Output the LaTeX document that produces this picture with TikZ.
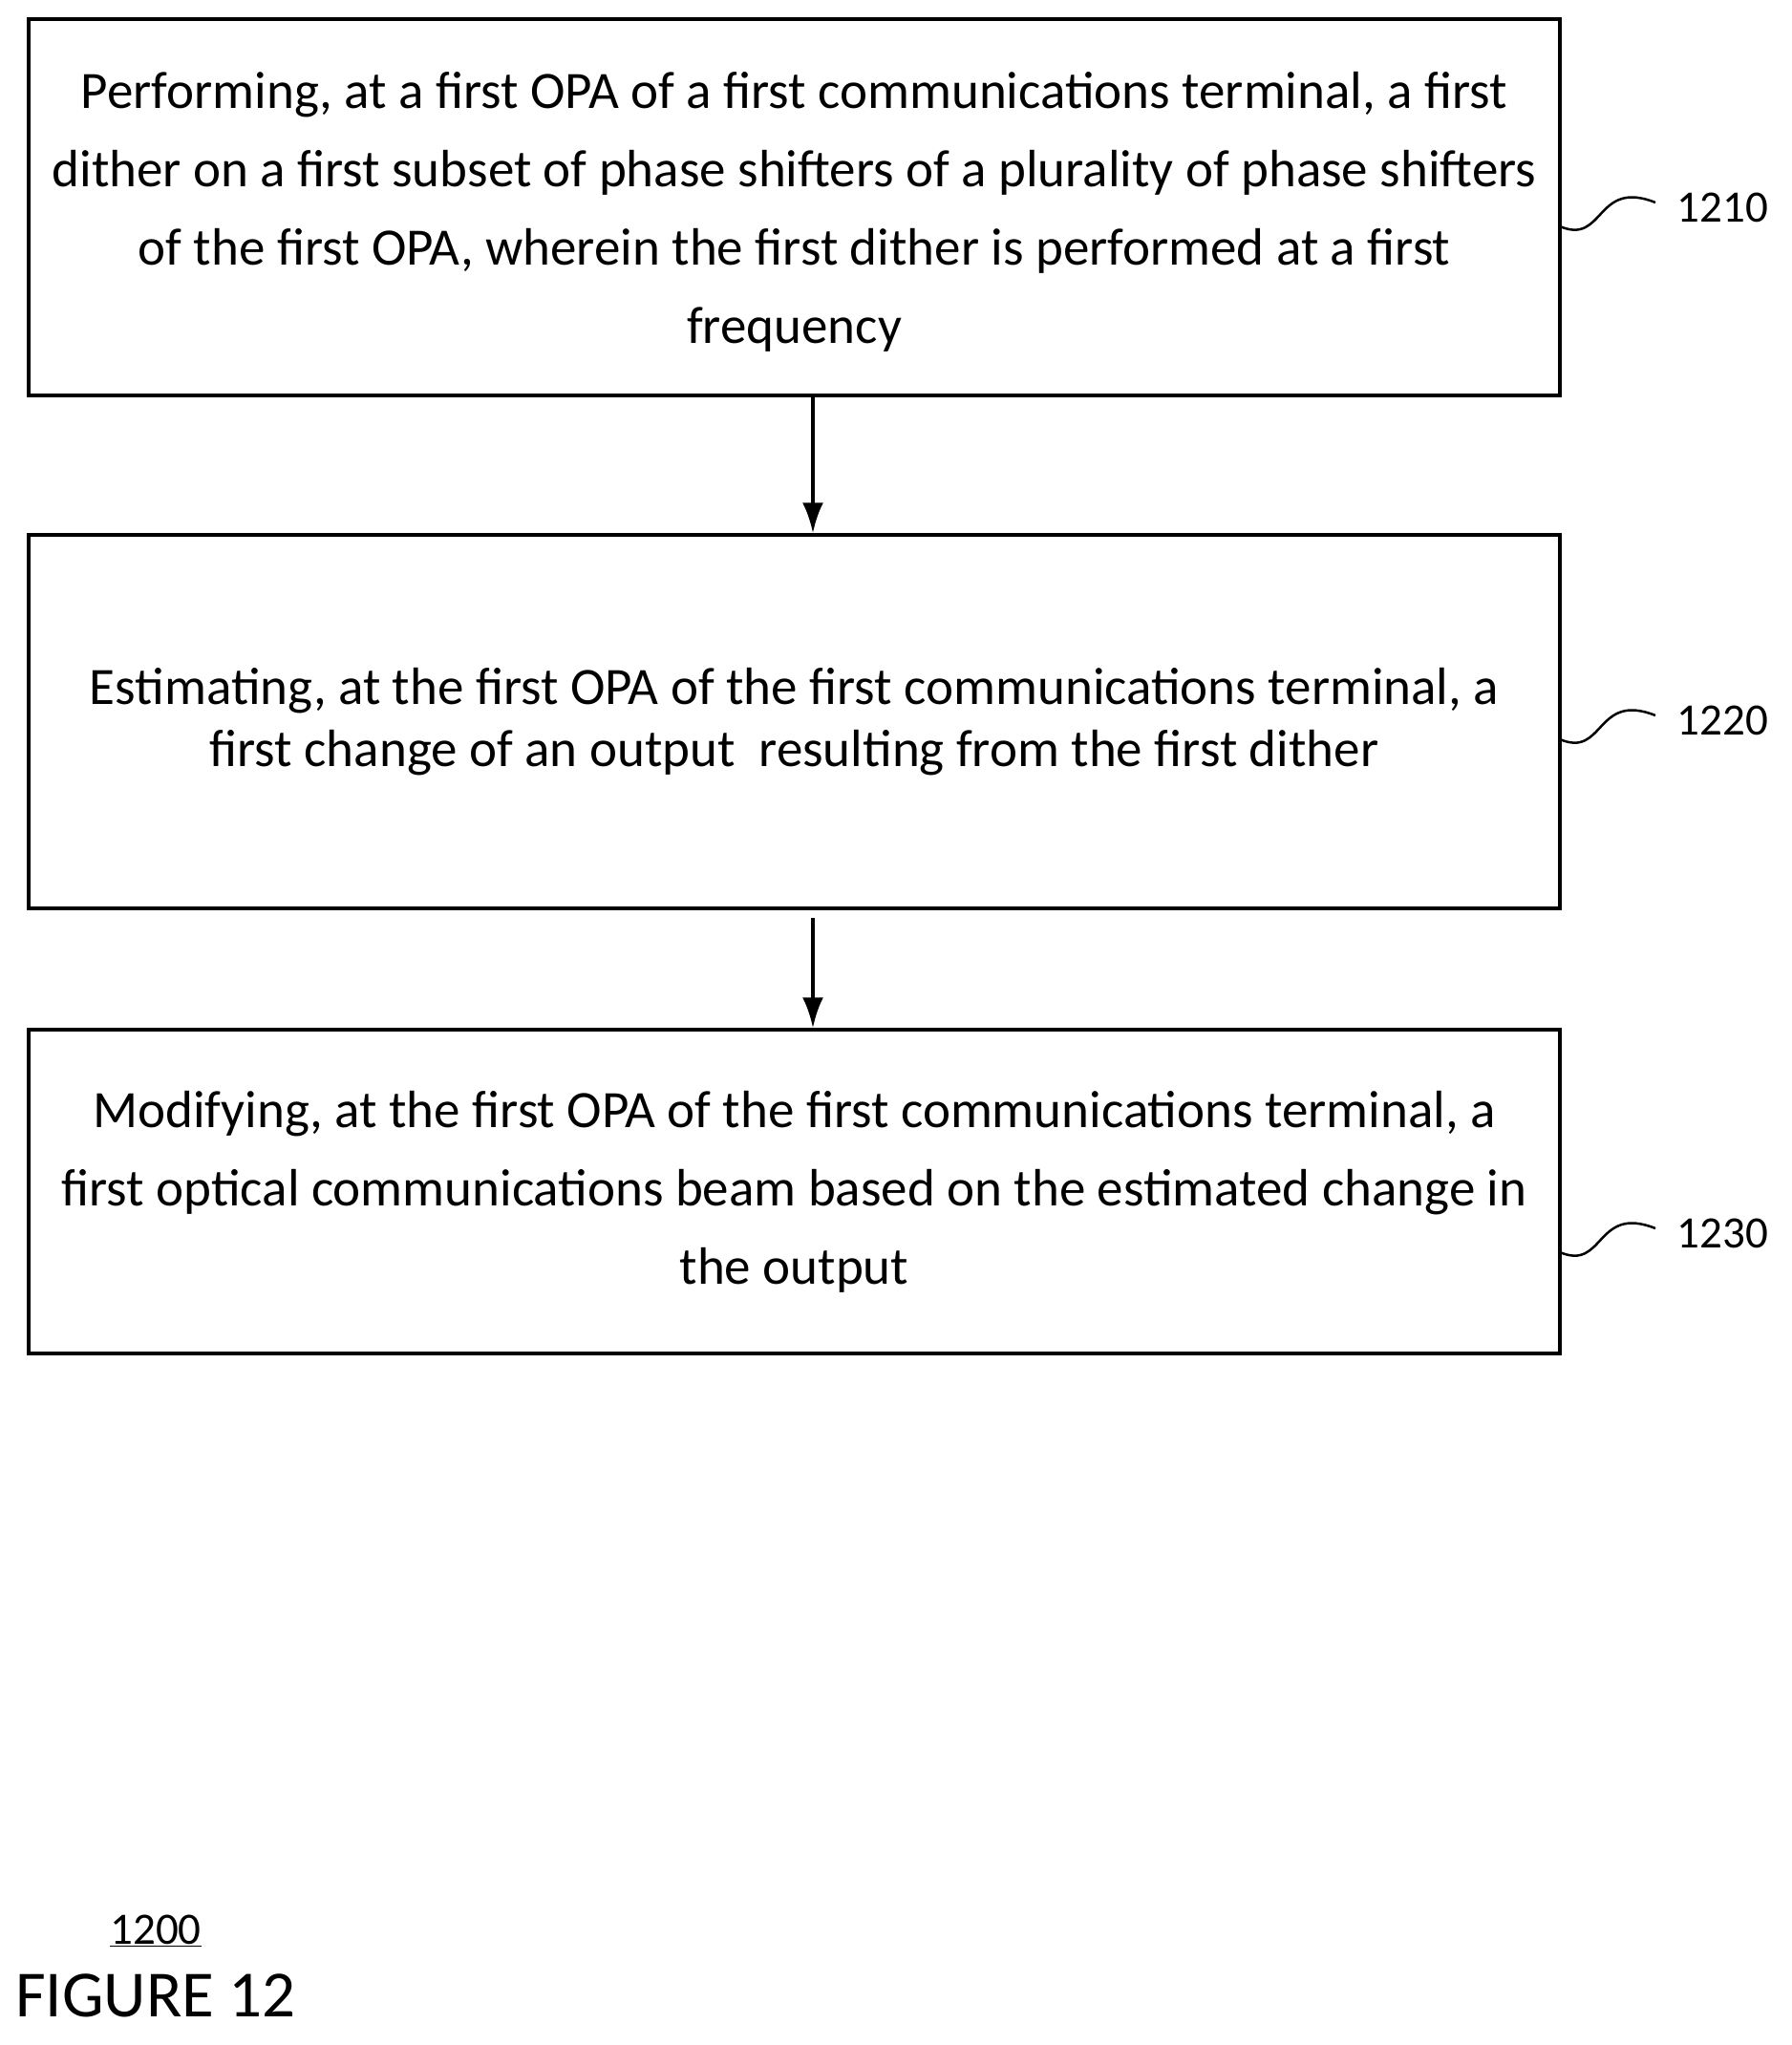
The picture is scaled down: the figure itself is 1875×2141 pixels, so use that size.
\documentclass[tikz,border=0pt]{standalone}
\usepackage{fontspec}
\setmainfont{Carlito}
\usetikzlibrary{positioning,arrows.meta}

\begin{document}
\begin{tikzpicture}[x=1pt, y=-1pt, every node/.style={font=\fontsize{55}{82}\selectfont}]

	% Styles for the step boxes and reference labels
	\tikzset{
		stepbox/.style={draw, line width=3.5pt, minimum width=1603pt, align=center, inner sep=0pt},
		reflabel/.style={anchor=west, font=\fontsize{47}{52}\selectfont},
		flowarrow/.style={-{Latex[length=32pt,width=22pt]}, line width=4pt}
	};

	\useasboundingbox (0,0) rectangle (1875,2141);

	% Step 1210
	\node[stepbox, minimum height=394pt, text depth=-10pt] (s1210) at (831.5,217) {Performing, at a first OPA of a first communications terminal, a first\\dither on a first subset of phase shifters of a plurality of phase shifters\\of the first OPA, wherein the first dither is performed at a first\\frequency};

	% Step 1220
	\node[stepbox, minimum height=391pt, font=\fontsize{55}{65}\selectfont] (s1220) at (831.5,755.5) {Estimating, at the first OPA of the first communications terminal, a\\first change of an output\ \ resulting from the first dither};

	% Step 1230
	\node[stepbox, minimum height=339pt] (s1230) at (831.5,1247.5) {Modifying, at the first OPA of the first communications terminal, a\\first optical communications beam based on the estimated change in\\the output};

	% Arrows between steps
	\draw[flowarrow] (s1210.south -| 851,0) -- (s1220.north -| 851,0);
	\draw[flowarrow] ([yshift=-8pt]s1220.south -| 851,0) -- (s1230.north -| 851,0);

	% Reference labels with squiggles
	\foreach \n/\y in {1210/217, 1220/754, 1230/1291} {
		\draw[line width=2.5pt] (1633,\y+20) .. controls (1680,\y+40) and (1670,\y-30) .. (1733,\y-5);
		\node[reflabel] (l\n) at (1752,\y) {\n};
	}

	% Figure number
	\node[font=\fontsize{47}{52}\selectfont] (num) at (163,2021) {\underline{1200}};
	\node[font=\fontsize{69}{76}\selectfont] (fig) at (163,2089) {FIGURE 12};
\end{tikzpicture}
\end{document}
